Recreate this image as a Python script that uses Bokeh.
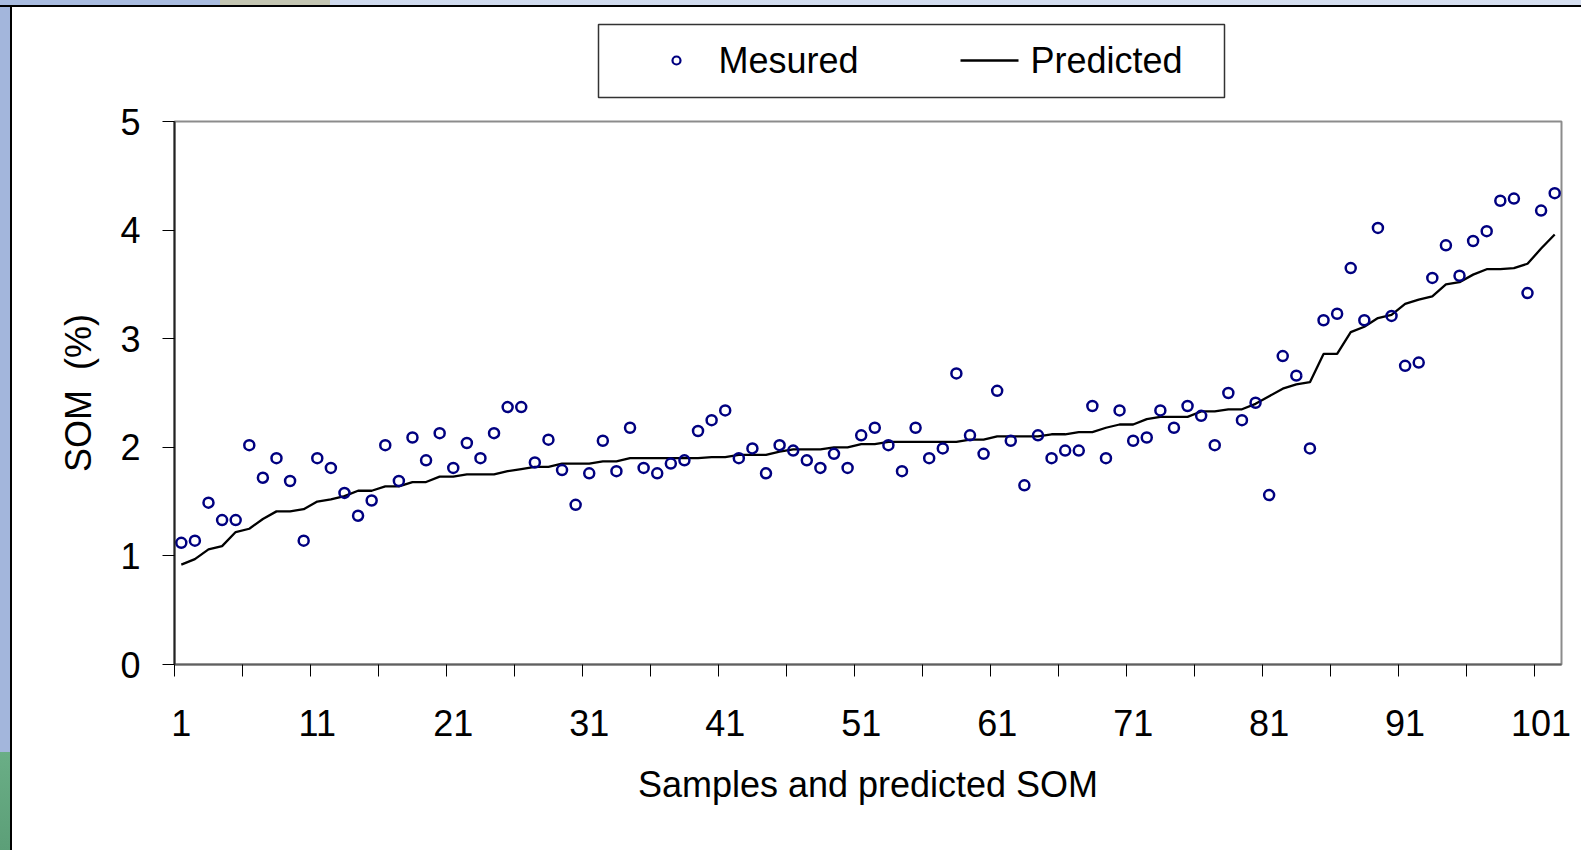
from bokeh.plotting import figure
from bokeh.models import Range1d, FixedTicker, ColumnDataSource, Div
from bokeh.core.properties import value
from bokeh.layouts import column, row
from bokeh.embed import file_html
from bokeh.resources import INLINE

# Sample numbers (1..102), measured and predicted soil organic matter (%)
samples = list(range(1, 103))
measured = [
    1.12, 1.14, 1.49, 1.33, 1.33, 2.02, 1.72, 1.90, 1.69, 1.14,
    1.90, 1.81, 1.58, 1.37, 1.51, 2.02, 1.69, 2.09, 1.88, 2.13,
    1.81, 2.04, 1.90, 2.13, 2.37, 2.37, 1.86, 2.07, 1.79, 1.47,
    1.76, 2.06, 1.78, 2.18, 1.81, 1.76, 1.85, 1.88, 2.15, 2.25,
    2.34, 1.90, 1.99, 1.76, 2.02, 1.97, 1.88, 1.81, 1.94, 1.81,
    2.11, 2.18, 2.02, 1.78, 2.18, 1.90, 1.99, 2.68, 2.11, 1.94,
    2.52, 2.06, 1.65, 2.11, 1.90, 1.97, 1.97, 2.38, 1.90, 2.34,
    2.06, 2.09, 2.34, 2.18, 2.38, 2.29, 2.02, 2.50, 2.25, 2.41,
    1.56, 2.84, 2.66, 1.99, 3.17, 3.23, 3.65, 3.17, 4.02, 3.21,
    2.75, 2.78, 3.56, 3.86, 3.58, 3.90, 3.99, 4.27, 4.29, 3.42,
    4.18, 4.34,
]
predicted = [
    0.92, 0.97, 1.06, 1.09, 1.22, 1.25, 1.34, 1.41, 1.41, 1.43,
    1.50, 1.52, 1.55, 1.60, 1.60, 1.64, 1.64, 1.68, 1.68, 1.73,
    1.73, 1.75, 1.75, 1.75, 1.78, 1.80, 1.82, 1.82, 1.85, 1.85,
    1.85, 1.87, 1.87, 1.90, 1.90, 1.90, 1.90, 1.90, 1.90, 1.91,
    1.91, 1.93, 1.93, 1.93, 1.96, 1.98, 1.98, 1.98, 2.00, 2.00,
    2.03, 2.03, 2.05, 2.05, 2.05, 2.05, 2.05, 2.05, 2.07, 2.07,
    2.10, 2.10, 2.10, 2.10, 2.12, 2.12, 2.14, 2.14, 2.18, 2.21,
    2.21, 2.26, 2.28, 2.28, 2.28, 2.33, 2.33, 2.35, 2.35, 2.40,
    2.47, 2.54, 2.58, 2.60, 2.86, 2.86, 3.06, 3.11, 3.19, 3.22,
    3.32, 3.36, 3.39, 3.50, 3.52, 3.59, 3.64, 3.64, 3.65, 3.69,
    3.83, 3.96,
]
x_label_ticks = [1, 11, 21, 31, 41, 51, 61, 71, 81, 91, 101]
y_ticks = [0, 1, 2, 3, 4, 5]
series_labels = ["Mesured", "Predicted"]

FONT = "Liberation Sans"
PT_STYLE = dict(marker="circle", size=10, line_color="#000080", line_width=2.5, fill_alpha=0)
LN_STYLE = dict(line_color="black", line_width=2.3)

CHART_W = 1569          # width of the chart panel (right of the left strip)
KEY_H = 93              # height of the key band above the plot
PLOT_H = 843 - KEY_H
BORDER_L, BORDER_R = 162, 20

# ---------------- main plot ----------------
src = ColumnDataSource(data=dict(x=samples, measured=measured, predicted=predicted))

p = figure(width=CHART_W, height=PLOT_H,
           x_range=Range1d(0.5, len(samples) + 0.5), y_range=Range1d(0, 5),
           output_backend="svg", toolbar_location=None,
           min_border_left=BORDER_L, min_border_right=BORDER_R,
           min_border_top=21, min_border_bottom=186)
p.margin = 0
p.title.visible = False
p.background_fill_color = "white"
p.border_fill_color = "white"
p.outline_line_color = "#8c8c8c"
p.outline_line_width = 2
p.xgrid.visible = False
p.ygrid.visible = False

p.line("x", "predicted", source=src, **LN_STYLE)
p.scatter("x", "measured", source=src, **PT_STYLE)

# x axis: labels every 10 samples, tick marks every 5 samples between categories
xa = p.xaxis[0]
xa.ticker = FixedTicker(ticks=x_label_ticks,
                        minor_ticks=[0.5 + 5 * k for k in range(21)])
xa.major_tick_out = 0
xa.major_tick_in = 0
xa.minor_tick_out = 12
xa.minor_tick_in = 0
xa.minor_tick_line_color = "black"
xa.axis_line_color = "#606060"
xa.axis_line_width = 2
xa.major_label_text_font = FONT
xa.major_label_text_font_size = "36px"
xa.major_label_text_color = "black"
xa.major_label_standoff = 33
xa.axis_label = "Samples and predicted SOM"
xa.axis_label_text_font = FONT
xa.axis_label_text_font_size = "36px"
xa.axis_label_text_font_style = "normal"
xa.axis_label_text_color = "black"
xa.axis_label_standoff = 25

ya = p.yaxis[0]
ya.ticker = FixedTicker(ticks=y_ticks)
ya.minor_tick_line_color = None
ya.major_tick_out = 12
ya.major_tick_in = 0
ya.major_tick_line_color = "black"
ya.axis_line_color = "#222222"
ya.axis_line_width = 2
ya.major_label_text_font = FONT
ya.major_label_text_font_size = "36px"
ya.major_label_text_color = "black"
ya.major_label_standoff = 22
ya.axis_label = "SOM\u00a0\u00a0(%)"
ya.axis_label_text_font = FONT
ya.axis_label_text_font_size = "36px"
ya.axis_label_text_font_style = "normal"
ya.axis_label_text_color = "black"
ya.axis_label_standoff = 18

# ---------------- key band above the plot ----------------
# the band's frame lines up with the plot frame; its units are pixels of the band
key = figure(width=CHART_W, height=KEY_H,
             x_range=Range1d(BORDER_L, CHART_W - BORDER_R), y_range=Range1d(0, KEY_H),
             output_backend="svg", toolbar_location=None,
             x_axis_location=None, y_axis_location=None,
             min_border_left=BORDER_L, min_border_right=BORDER_R,
             min_border_top=0, min_border_bottom=0)
key.margin = 0
key.title.visible = False
key.outline_line_color = None
key.background_fill_color = "white"
key.border_fill_color = "white"
key.xgrid.visible = False
key.ygrid.visible = False

KEY_BOX = dict(left=586, right=1212, bottom=3, top=76)
KEY_ROW_Y = 40
KEY_DOT_X = 664
KEY_LINE_X = (948, 1006)
KEY_TEXT_X = (706, 1018)

key.quad(left=[KEY_BOX["left"]], right=[KEY_BOX["right"]],
         bottom=[KEY_BOX["bottom"]], top=[KEY_BOX["top"]],
         fill_color="white", line_color="#333333", line_width=1.5)
key.scatter(x=[KEY_DOT_X], y=[KEY_ROW_Y], marker="circle", size=8,
            line_color="#000080", line_width=2.2, fill_alpha=0)
key.line(x=list(KEY_LINE_X), y=[KEY_ROW_Y, KEY_ROW_Y], **LN_STYLE)
key.text(x=list(KEY_TEXT_X), y=[KEY_ROW_Y, KEY_ROW_Y], text=series_labels,
         text_font=value(FONT), text_font_size="36px", text_color="black",
         text_align="left", text_baseline="middle")

# slide backdrop: a strip along the top and one down the left edge, each with a dark rule
top_strip = Div(width=1581, height=7, margin=0, styles={
    "background": "linear-gradient(to bottom, rgba(0,0,0,0) 0px, rgba(0,0,0,0) 5px, #000 5px, #000 7px), "
                  "linear-gradient(to right, #a9bce0 0px, #a9bce0 220px, #c4c6b2 220px, #c4c6b2 330px, "
                  "#cfdaee 330px, #d6dff0 1581px)"})
left_strip = Div(width=12, height=843, margin=0, styles={
    "background": "linear-gradient(to right, rgba(0,0,0,0) 0px, rgba(0,0,0,0) 10px, #000 10px, #000 12px), "
                  "linear-gradient(to bottom, #a3b6dc 0px, #a3b6dc 745px, #6aae86 745px, #5c9f78 843px)"})

root = column(top_strip,
              row(left_strip, column(key, p, spacing=0, margin=0), spacing=0, margin=0),
              spacing=0, margin=0)

open("out.html", "w").write(file_html(root, INLINE))
